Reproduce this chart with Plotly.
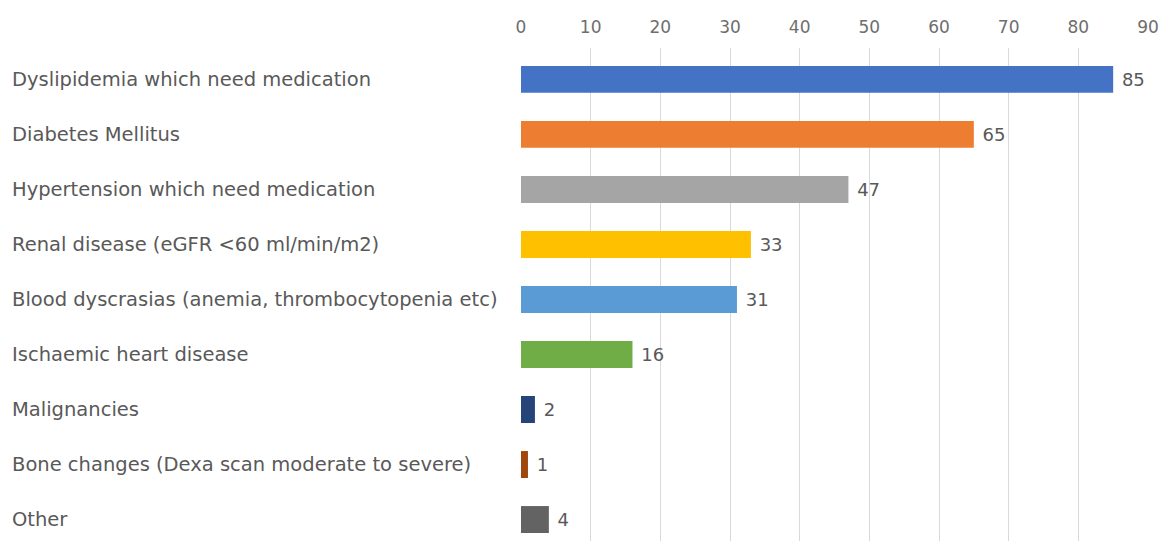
import plotly.graph_objects as go

# Comorbidity counts, listed top to bottom
categories = [
    "Dyslipidemia which need medication",
    "Diabetes Mellitus",
    "Hypertension which need medication",
    "Renal disease (eGFR <60 ml/min/m2)",
    "Blood dyscrasias (anemia, thrombocytopenia etc)",
    "Ischaemic heart disease",
    "Malignancies",
    "Bone changes (Dexa scan moderate to severe)",
    "Other",
]
counts = [85, 65, 47, 33, 31, 16, 2, 1, 4]
bar_colors = ["#4472C4", "#ED7D31", "#A5A5A5", "#FFC000", "#5B9BD5",
              "#70AD47", "#264478", "#9E480E", "#636363"]
x_ticks = [0, 10, 20, 30, 40, 50, 60, 70, 80, 90]

FONT = "DejaVu Sans"
TEXT_COLOR = "#595959"

fig = go.Figure(
    go.Bar(
        y=categories,
        x=counts,
        orientation="h",
        marker=dict(color=bar_colors, line=dict(width=0)),
        text=[f" {v}" for v in counts],
        textposition="outside",
        textfont=dict(family=FONT, size=18, color=TEXT_COLOR),
        cliponaxis=False,
        width=0.49,
    )
)

# Left-aligned category labels
for cat in categories:
    fig.add_annotation(
        x=0, xref="paper", xshift=-511, xanchor="left",
        y=cat, yref="y", yanchor="middle",
        text=cat, showarrow=False,
        font=dict(family=FONT, size=19.5, color=TEXT_COLOR),
    )

fig.update_layout(
    width=1164,
    height=541,
    margin=dict(l=521, r=16, t=48, b=0),
    paper_bgcolor="white",
    plot_bgcolor="white",
    showlegend=False,
    xaxis=dict(
        side="top",
        range=[0, 90],
        tickvals=x_ticks,
        showgrid=True,
        gridcolor="#D9D9D9",
        gridwidth=1,
        zeroline=False,
        showline=False,
        ticks="",
        ticklabelstandoff=11,
        tickfont=dict(family=FONT, size=17, color="#6E6E6E"),
    ),
    yaxis=dict(
        categoryorder="array",
        categoryarray=categories,
        range=[8.39, -0.57],
        showticklabels=False,
        showgrid=False,
        zeroline=False,
        showline=False,
        ticks="",
    ),
)

fig.write_html("out.html")
